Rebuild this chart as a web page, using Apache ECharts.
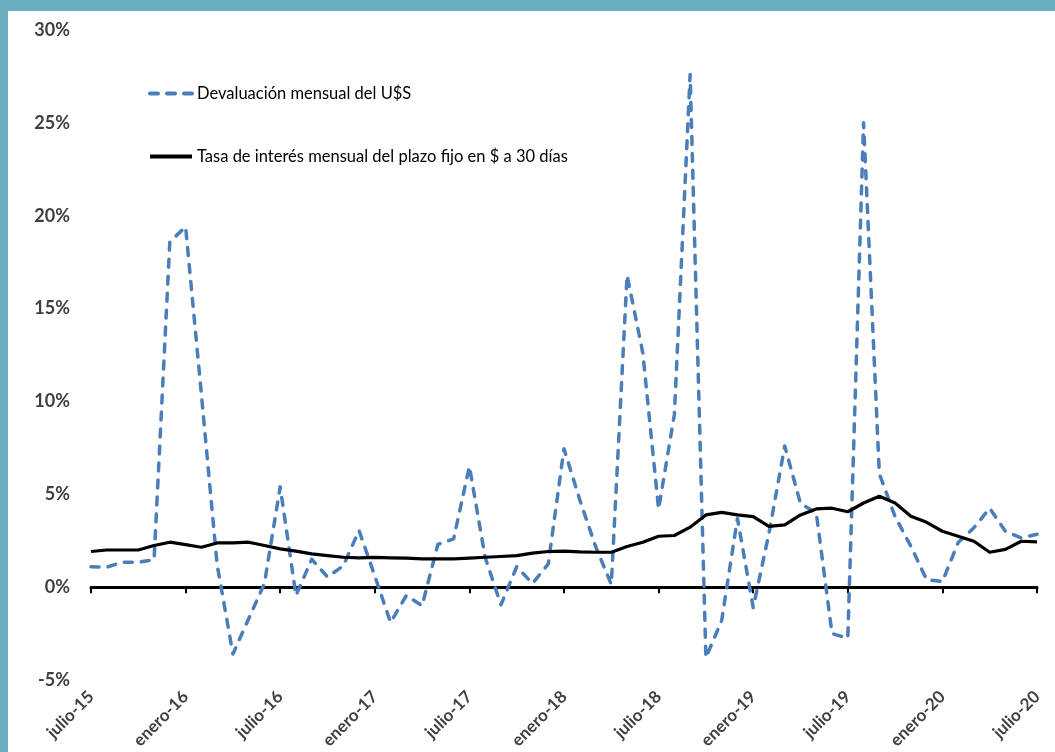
<!DOCTYPE html>
<html>
<head>
<meta charset="utf-8">
<script src="https://cdn.jsdelivr.net/npm/echarts@6/dist/echarts.min.js"></script>
<style>
  html, body { margin: 0; padding: 0; background: #6AAEC2; }
  #frame { position: absolute; left: 0; top: 0; width: 1055px; height: 752px; background: #6AAEC2; }
  #chart { position: absolute; left: 8px; top: 11px; width: 1047px; height: 741px; background: #ffffff; }
</style>
</head>
<body>
<div id="frame"><div id="chart"></div></div>
<script>
const categories = [
  "julio-15","agosto-15","septiembre-15","octubre-15","noviembre-15","diciembre-15",
  "enero-16","febrero-16","marzo-16","abril-16","mayo-16","junio-16",
  "julio-16","agosto-16","septiembre-16","octubre-16","noviembre-16","diciembre-16",
  "enero-17","febrero-17","marzo-17","abril-17","mayo-17","junio-17",
  "julio-17","agosto-17","septiembre-17","octubre-17","noviembre-17","diciembre-17",
  "enero-18","febrero-18","marzo-18","abril-18","mayo-18","junio-18",
  "julio-18","agosto-18","septiembre-18","octubre-18","noviembre-18","diciembre-18",
  "enero-19","febrero-19","marzo-19","abril-19","mayo-19","junio-19",
  "julio-19","agosto-19","septiembre-19","octubre-19","noviembre-19","diciembre-19",
  "enero-20","febrero-20","marzo-20","abril-20","mayo-20","junio-20",
  "julio-20"
];

const devaluacion = [
  1.1, 1.08, 1.34, 1.34, 1.47, 18.6,
  19.4, 10.4, 1.2, -3.6, -1.7, 0.2,
  5.4, -0.45, 1.5, 0.55, 1.15, 3.05,
  0.6, -1.9, -0.45, -1.0, 2.3, 2.6,
  6.5, 1.6, -0.95, 1.1, 0.2, 1.25,
  7.45, 4.7, 2.2, 0.15, 16.8, 12.6,
  4.2, 9.3, 27.6, -3.8, -1.8, 3.7,
  -1.1, 2.9, 7.6, 4.5, 4.0, -2.5,
  -2.75, 25.0, 6.1, 3.8, 2.2, 0.4,
  0.3, 2.4, 3.2, 4.25, 3.0, 2.65,
  2.85
];

const tasaPlazoFijo = [
  1.92, 2.0, 2.0, 2.0, 2.24, 2.42,
  2.29, 2.15, 2.38, 2.38, 2.42, 2.24,
  2.06, 1.94, 1.79, 1.70, 1.61, 1.58,
  1.60, 1.58, 1.56, 1.52, 1.52, 1.52,
  1.56, 1.61, 1.65, 1.70, 1.83, 1.92,
  1.94, 1.90, 1.88, 1.88, 2.19, 2.42,
  2.74, 2.78, 3.23, 3.89, 4.03, 3.89,
  3.80, 3.27, 3.35, 3.89, 4.21, 4.25,
  4.06, 4.53, 4.89, 4.53, 3.82, 3.49,
  3.01, 2.74, 2.47, 1.88, 2.03, 2.47,
  2.44
];

const seriesNames = ["Devaluación mensual del U$S", "Tasa de interés mensual del plazo fijo en $ a 30 días"];

const chart = echarts.init(document.getElementById('chart'), null, { renderer: 'canvas' });
const FONT = 'Lato';
chart.setOption({
  animation: false,
  backgroundColor: '#ffffff',
  legend: {
    orient: 'vertical',
    left: 140,
    top: 74,
    padding: 0,
    itemWidth: 42,
    itemHeight: 14,
    itemGap: 46,
    itemStyle: { opacity: 0 },
    lineStyle: { width: 4 },
    textStyle: { fontFamily: FONT, fontSize: 16.5, color: '#000000' },
    data: seriesNames
  },
  grid: { left: 83, right: 18, top: 19, bottom: 72, containLabel: false },
  xAxis: [
    {
      type: 'category',
      data: categories,
      boundaryGap: false,
      position: 'bottom',
      axisLine: { show: false, onZero: false },
      axisTick: { show: false },
      axisLabel: {
        interval: 5,
        rotate: 45,
        margin: 14,
        fontFamily: FONT,
        fontWeight: 'bold',
        fontSize: 17,
        color: '#404040'
      },
      splitLine: { show: false }
    },
    {
      type: 'category',
      data: categories,
      boundaryGap: false,
      position: 'bottom',
      axisLine: { show: true, onZero: true, lineStyle: { color: '#000000', width: 3 } },
      axisTick: { show: true, interval: 5, length: 6, lineStyle: { color: '#000000', width: 2 } },
      axisLabel: { show: false },
      splitLine: { show: false }
    }
  ],
  yAxis: {
    type: 'value',
    min: -5,
    max: 30,
    interval: 5,
    axisLine: { show: false },
    axisTick: { show: false },
    splitLine: { show: false },
    axisLabel: {
      formatter: '{value}%',
      margin: 21,
      fontFamily: FONT,
      fontWeight: 'bold',
      fontSize: 18,
      color: '#404040'
    }
  },
  series: [
    {
      name: seriesNames[0],
      type: 'line',
      xAxisIndex: 0,
      data: devaluacion,
      symbol: 'none',
      lineStyle: { color: '#4A7EBB', width: 3.5, type: [8, 9], cap: 'round', join: 'round' },
      itemStyle: { color: '#4A7EBB' }
    },
    {
      name: seriesNames[1],
      type: 'line',
      xAxisIndex: 0,
      data: tasaPlazoFijo,
      symbol: 'none',
      lineStyle: { color: '#000000', width: 3.2, join: 'round' },
      itemStyle: { color: '#000000' }
    }
  ]
});
</script>
</body>
</html>
